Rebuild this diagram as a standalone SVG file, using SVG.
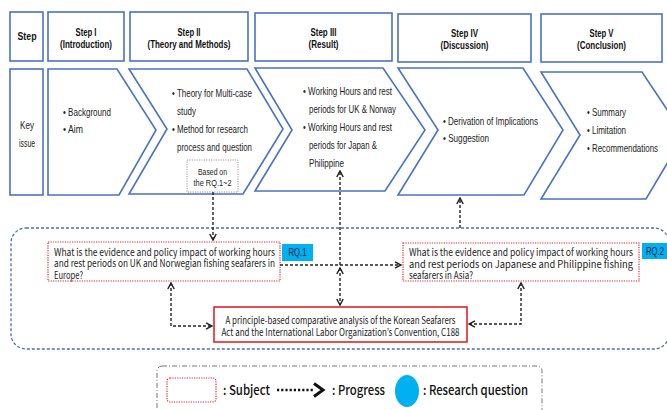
<svg xmlns="http://www.w3.org/2000/svg" width="667" height="410" viewBox="0 0 667 410">
<style>
.box{fill:#fff;stroke:#4a72c4;stroke-width:1.6}
.hd{font-family:"Liberation Sans",Arial,sans-serif;font-size:10.5px;font-weight:bold;fill:#111;text-anchor:middle}
.tx{font-family:"Liberation Sans",Arial,sans-serif;font-size:10.5px;fill:#222}
.sm{font-family:"Liberation Sans",Arial,sans-serif;font-size:8.5px;fill:#222;text-anchor:middle}
.kr{font-family:"Noto Sans CJK KR","Noto Sans",sans-serif;font-size:10px;fill:#222}
.subj{fill:#fff;stroke:#e0242c;stroke-width:1.2;stroke-dasharray:1.2 1.2}
.rq{fill:#00b0f0}
.rqt{font-family:"Liberation Sans",Arial,sans-serif;font-size:10px;fill:#102040;text-anchor:middle}
.con{fill:none;stroke:#222;stroke-width:1.4;stroke-dasharray:3 2}
.lg{font-family:"Noto Sans CJK KR","Noto Sans",sans-serif;font-size:13.5px;font-weight:500;fill:#111}
</style>
<defs>
<marker id="ah" viewBox="0 0 8 8" refX="7" refY="4" markerWidth="8" markerHeight="8" markerUnits="userSpaceOnUse" orient="auto-start-reverse">
<path d="M1,0.8 L7,4 L1,7.2" fill="none" stroke="#222" stroke-width="1.5"/>
</marker>
</defs>

<g id="container">
<rect x="11" y="228" width="658" height="121" rx="15" fill="none" stroke="#4a6fb5" stroke-width="1.3" stroke-dasharray="3 2"/>
</g>

<g id="step-header">
<rect class="box" x="10" y="12" width="33" height="49"/>
<text class="hd" x="27" y="40" font-size="11.5" textLength="19" lengthAdjust="spacingAndGlyphs">Step</text>
</g>
<g id="step1-header">
<rect class="box" x="48" y="12" width="76" height="49"/>
<text class="hd" x="86" y="35.5" textLength="21" lengthAdjust="spacingAndGlyphs">Step I</text>
<text class="hd" x="86" y="47.5" textLength="52" lengthAdjust="spacingAndGlyphs">(Introduction)</text>
</g>
<g id="step2-header">
<rect class="box" x="130" y="12" width="118" height="49"/>
<text class="hd" x="189" y="35.5" textLength="23" lengthAdjust="spacingAndGlyphs">Step II</text>
<text class="hd" x="189" y="47.5" textLength="83" lengthAdjust="spacingAndGlyphs">(Theory and Methods)</text>
</g>
<g id="step3-header">
<rect class="box" x="255" y="13" width="137" height="48"/>
<text class="hd" x="323.5" y="35.5" textLength="26" lengthAdjust="spacingAndGlyphs">Step III</text>
<text class="hd" x="323.5" y="47.5" textLength="30" lengthAdjust="spacingAndGlyphs">(Result)</text>
</g>
<g id="step4-header">
<rect class="box" x="398" y="14" width="133" height="48"/>
<text class="hd" x="464.5" y="36.5" textLength="27" lengthAdjust="spacingAndGlyphs">Step IV</text>
<text class="hd" x="464.5" y="48.5" textLength="48" lengthAdjust="spacingAndGlyphs">(Discussion)</text>
</g>
<g id="step5-header">
<rect class="box" x="541" y="14" width="121" height="48"/>
<text class="hd" x="601.5" y="36.5" textLength="24" lengthAdjust="spacingAndGlyphs">Step V</text>
<text class="hd" x="601.5" y="48.5" textLength="49" lengthAdjust="spacingAndGlyphs">(Conclusion)</text>
</g>

<g id="key-issue">
<rect class="box" x="10" y="69" width="33" height="126"/>
<text class="tx" x="27" y="128.5" text-anchor="middle" textLength="14" lengthAdjust="spacingAndGlyphs">Key</text>
<text class="tx" x="27" y="146.5" text-anchor="middle" textLength="16" lengthAdjust="spacingAndGlyphs">issue</text>
</g>

<g id="step1">
<path class="box" d="M48,69 L117,69 L156,130 L119,195 L48,195 Z"/>
<text class="tx" x="63" y="115.5" textLength="48" lengthAdjust="spacingAndGlyphs">• Background</text>
<text class="tx" x="63" y="132.5" textLength="20" lengthAdjust="spacingAndGlyphs">• Aim</text>
</g>
<g id="step2">
<path class="box" d="M129,69 L247,69 L283,129 L243,194 L129,194 L167,129 Z"/>
<text class="tx" x="172" y="96.5" textLength="80" lengthAdjust="spacingAndGlyphs">• Theory for Multi-case</text>
<text class="tx" x="177" y="114.5" textLength="19" lengthAdjust="spacingAndGlyphs">study</text>
<text class="tx" x="172" y="132.5" textLength="76" lengthAdjust="spacingAndGlyphs">• Method for research</text>
<text class="tx" x="177" y="150.5" textLength="75" lengthAdjust="spacingAndGlyphs">process and question</text>
</g>
<g id="based-on">
<rect x="187" y="160" width="51" height="32" fill="#fff" stroke="#999" stroke-width="1" stroke-dasharray="1.2 1.2"/>
<text class="sm" x="212.5" y="174.5" textLength="29" lengthAdjust="spacingAndGlyphs">Based on</text>
<text class="sm" x="212.5" y="185.5" textLength="38" lengthAdjust="spacingAndGlyphs">the RQ.1~2</text>
</g>
<g id="step3">
<path class="box" d="M255,68 L383,68 L425,130 L385,191 L255,191 L292,130 Z"/>
<text class="tx" x="303" y="94.5" textLength="89" lengthAdjust="spacingAndGlyphs">• Working Hours and rest</text>
<text class="tx" x="309" y="112.5" textLength="87" lengthAdjust="spacingAndGlyphs">periods for UK &amp; Norway</text>
<text class="tx" x="303" y="130.5" textLength="89" lengthAdjust="spacingAndGlyphs">• Working Hours and rest</text>
<text class="tx" x="309" y="148.5" textLength="68" lengthAdjust="spacingAndGlyphs">periods for Japan &amp;</text>
<text class="tx" x="309" y="166.5" textLength="35" lengthAdjust="spacingAndGlyphs">Philippine</text>
</g>
<g id="step4">
<path class="box" d="M398,68 L523,68 L563,130 L524,195 L398,195 L438,130 Z"/>
<text class="tx" x="443" y="124.5" textLength="95" lengthAdjust="spacingAndGlyphs">• Derivation of Implications</text>
<text class="tx" x="443" y="141.5" textLength="46" lengthAdjust="spacingAndGlyphs">• Suggestion</text>
</g>
<g id="step5">
<path class="box" d="M541,72 L642,72 L684,135 L646,199 L541,199 L580,135 Z"/>
<text class="tx" x="587" y="115.5" textLength="39" lengthAdjust="spacingAndGlyphs">• Summary</text>
<text class="tx" x="587" y="133.5" textLength="39" lengthAdjust="spacingAndGlyphs">• Limitation</text>
<text class="tx" x="587" y="151.5" textLength="71" lengthAdjust="spacingAndGlyphs">• Recommendations</text>
</g>

<g id="rq1">
<rect class="subj" x="48" y="242" width="232" height="39"/>
<text class="kr" x="54" y="255.5" textLength="221" lengthAdjust="spacingAndGlyphs">What is the evidence and policy impact of working hours</text>
<text class="kr" x="54" y="267" textLength="221" lengthAdjust="spacingAndGlyphs">and rest periods on UK and Norwegian fishing seafarers in</text>
<text class="kr" x="54" y="278.5" textLength="29" lengthAdjust="spacingAndGlyphs">Europe?</text>
</g>
<g id="rq1-label">
<rect class="rq" x="282" y="244" width="31" height="17"/>
<text class="rqt" x="297.5" y="256" textLength="18" lengthAdjust="spacingAndGlyphs">RQ.1</text>
</g>
<g id="rq2">
<rect class="subj" x="403" y="243" width="236" height="38"/>
<text class="kr" x="409" y="256" textLength="224" lengthAdjust="spacingAndGlyphs">What is the evidence and policy impact of working hours</text>
<text class="kr" x="409" y="267.5" textLength="224" lengthAdjust="spacingAndGlyphs">and rest periods on Japanese and Philippine fishing</text>
<text class="kr" x="409" y="279" textLength="64" lengthAdjust="spacingAndGlyphs">seafarers in Asia?</text>
</g>
<g id="rq2-label">
<rect class="rq" x="642" y="243" width="27" height="16"/>
<text class="rqt" x="655" y="255" textLength="18" lengthAdjust="spacingAndGlyphs">RQ.2</text>
</g>
<g id="core">
<rect x="214" y="307" width="253" height="35" fill="#fff" stroke="#e0242c" stroke-width="1.6"/>
<text class="kr" x="340.5" y="324" text-anchor="middle" textLength="230" lengthAdjust="spacingAndGlyphs">A principle-based comparative analysis of the Korean Seafarers</text>
<text class="kr" x="340.5" y="336" text-anchor="middle" textLength="238" lengthAdjust="spacingAndGlyphs">Act and the International Labor Organization’s Convention, C188</text>
</g>

<g id="connectors">
<path class="con" d="M213,192 V240" marker-end="url(#ah)"/>
<path class="con" d="M280,265 H401" marker-end="url(#ah)"/>
<path class="con" d="M340,265 V171" marker-end="url(#ah)"/>
<path class="con" d="M340,268 V305" marker-start="url(#ah)" marker-end="url(#ah)"/>
<path class="con" d="M460,228 V198" marker-end="url(#ah)"/>
<path class="con" d="M171,283 V326 H212" marker-start="url(#ah)" marker-end="url(#ah)"/>
<path class="con" d="M521,283 V324 H469" marker-start="url(#ah)" marker-end="url(#ah)"/>
</g>

<g id="legend">
<rect x="157" y="366" width="385" height="52" rx="5" fill="none" stroke="#777" stroke-width="1" stroke-dasharray="5 2 1 2"/>
<rect class="subj" x="167" y="378" width="49" height="24" rx="3"/>
<text class="lg" x="223" y="395" textLength="47" lengthAdjust="spacingAndGlyphs">: Subject</text>
<path d="M277,390 H313" fill="none" stroke="#111" stroke-width="2.4" stroke-dasharray="2.2 2"/>
<path d="M314,383.5 L323,390 L314,396.5" fill="none" stroke="#111" stroke-width="3"/>
<text class="lg" x="332" y="395" textLength="53" lengthAdjust="spacingAndGlyphs">: Progress</text>
<ellipse cx="407" cy="391" rx="12" ry="16" fill="#00b0f0"/>
<text class="lg" x="423" y="395" textLength="105" lengthAdjust="spacingAndGlyphs">: Research question</text>
</g>
</svg>
